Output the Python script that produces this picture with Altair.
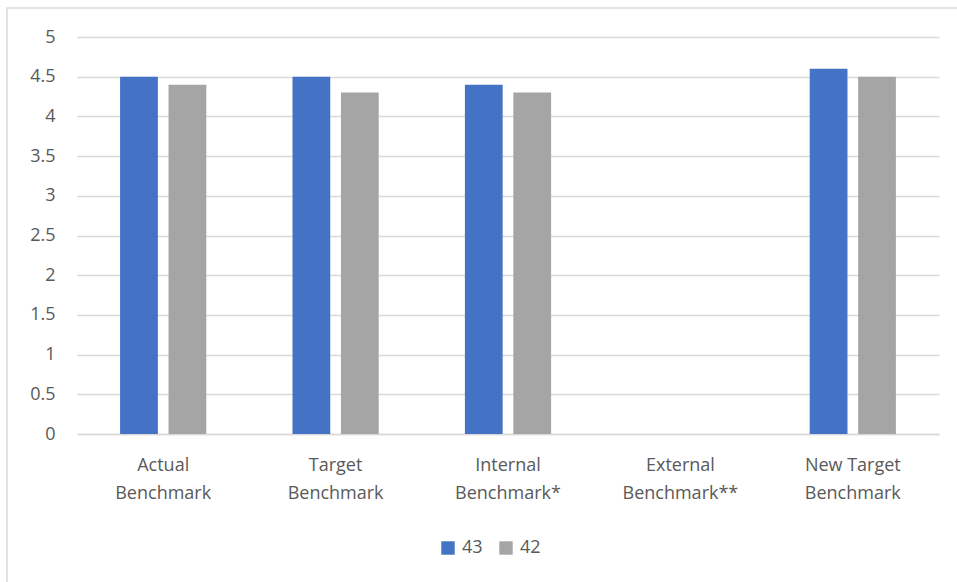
import altair as alt
import pandas as pd

categories = ["Actual Benchmark", "Target Benchmark", "Internal Benchmark*",
              "External Benchmark**", "New Target Benchmark"]
series_names = ["43", "42"]
values_43 = [4.5, 4.5, 4.4, None, 4.6]
values_42 = [4.4, 4.3, 4.3, None, 4.5]
y_ticks = [0, 0.5, 1, 1.5, 2, 2.5, 3, 3.5, 4, 4.5, 5]

rows = []
for cat, a, b in zip(categories, values_43, values_42):
    rows.append({"category": cat, "series": series_names[0], "value": a})
    rows.append({"category": cat, "series": series_names[1], "value": b})
df = pd.DataFrame(rows)

FONT = "Open Sans"
TEXT = "#595959"
GRID = "#D9D9D9"

bars = alt.Chart(df).mark_bar().encode(
    x=alt.X("category:N", sort=categories, title=None,
            scale=alt.Scale(paddingInner=0.5, paddingOuter=0.25),
            axis=alt.Axis(
                labelAngle=0, ticks=False, grid=False, domainColor=GRID, domainWidth=1.5,
                labelPadding=22, labelFontSize=18, labelColor=TEXT, labelFont=FONT,
                labelLineHeight=28, labelBaseline="top",
                labelExpr="[slice(datum.label, 0, lastindexof(datum.label, ' ')), "
                          "slice(datum.label, lastindexof(datum.label, ' ') + 1)]")),
    xOffset=alt.XOffset("series:N", sort=series_names,
                        scale=alt.Scale(paddingInner=0.22, paddingOuter=0)),
    y=alt.Y("value:Q", title=None,
            scale=alt.Scale(domain=[0, 5], nice=False),
            axis=alt.Axis(values=y_ticks, ticks=False, domain=False, format="~g",
                          gridColor=GRID, gridWidth=1.5,
                          labelPadding=22, labelFontSize=18, labelColor=TEXT,
                          labelFont=FONT)),
    color=alt.Color("series:N", sort=series_names,
                    scale=alt.Scale(domain=series_names, range=["#4472C4", "#A5A5A5"]),
                    legend=alt.Legend(title=None, orient="none", direction="horizontal",
                                      legendX=362, legendY=502,
                                      symbolType="square", symbolSize=180,
                                      symbolStrokeWidth=0, symbolOpacity=1,
                                      labelFontSize=18, labelColor=TEXT, labelFont=FONT,
                                      columnPadding=14, labelOffset=5)),
)

# light outer frame around the whole chart
frame = alt.Chart(pd.DataFrame({"k": [0]})).mark_rect(
    fill="white", fillOpacity=0, stroke=GRID, strokeWidth=1.5
).encode(
    x=alt.value(-70), x2=alt.value(960),
    y=alt.value(-29), y2=alt.value(600),
)

chart = alt.layer(frame, bars).properties(
    width=862, height=397,
    background="white",
    autosize=alt.AutoSizeParams(type="none"),
    padding={"left": 77, "top": 37, "right": 18, "bottom": 148},
).configure_view(stroke="transparent", strokeWidth=0)

chart.save("out.html", embed_options={"renderer": "svg", "actions": False})
